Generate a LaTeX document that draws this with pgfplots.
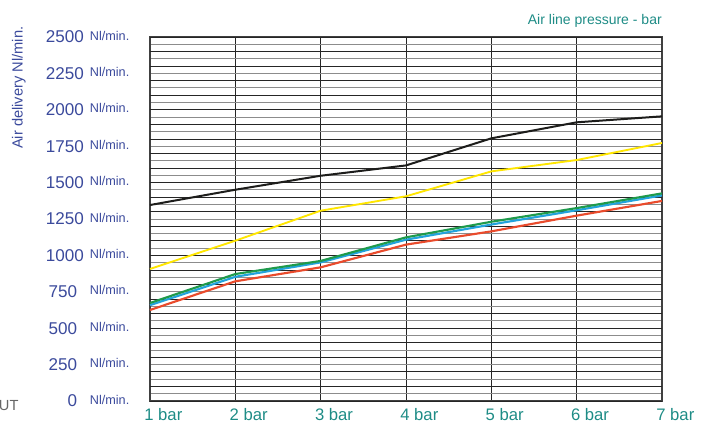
\documentclass[border=0pt]{standalone}
\usepackage{pgfplots}
\pgfplotsset{compat=1.18}
\usepackage{fontspec}
\setmainfont{Liberation Sans}
\definecolor{lblue}{HTML}{3B4A9C}
\definecolor{teal1}{HTML}{1E8C86}
\definecolor{cblack}{HTML}{1D1D1B}
\definecolor{cyellow}{HTML}{FFE600}
\definecolor{cgreen}{HTML}{1E9A4C}
\definecolor{cblue}{HTML}{22A3DC}
\definecolor{cred}{HTML}{E94B2C}
\newcommand\yl[2]{\makebox[31pt][r]{#1\hspace{#2}}\hspace{4.5pt}{\fontsize{9.5}{10}\selectfont\raisebox{2.2pt}{Nl/min.}}}
\begin{document}
\begin{tikzpicture}
\useasboundingbox (-112.5pt,-23.25pt) rectangle (414.75pt,300.75pt);
\begin{axis}[
  at={(0,0)}, anchor=south west,
  scale only axis, width=384pt, height=273pt,
  xmin=1, xmax=7, ymin=0, ymax=2500,
  xtick={1,...,7},
  xticklabels={1 bar,2 bar,3 bar,4 bar,5 bar,6 bar,7 bar},
  xticklabel style={text=teal1, font=\fontsize{12.5}{14}\selectfont, xshift=10pt, yshift=-2pt},
  ytick={0,250,...,2500},
  yticklabels={\yl{0}{5pt},\yl{250}{5pt},\yl{500}{5pt},\yl{750}{5pt},\yl{1000}{0pt},\yl{1250}{0pt},\yl{1500}{0pt},\yl{1750}{0pt},\yl{2000}{0pt},\yl{2250}{0pt},\yl{2500}{0pt}},
  yticklabel style={text=lblue, font=\fontsize{12.8}{14}\selectfont, xshift=-12pt},
  major tick length=0pt, minor tick length=0pt,
  xmajorgrids=true, ymajorgrids=false,
  major grid style={draw=black!85, line width=0.6pt},
  extra y ticks={0,100,...,2500},
  extra y tick labels={},
  extra y tick style={grid=major, major tick length=0pt},
  minor ytick={50,150,...,2450},
  yminorgrids=true,
  minor grid style={draw=black!45, line width=0.7pt},
  axis line style={draw=black!75, line width=0.8pt},
  clip=false,
]
\addplot[cblack, line width=1.5pt] coordinates {(1,1346) (2,1451) (3,1547) (4,1618) (5,1804) (6,1914) (7,1955)};
\addplot[cyellow, line width=1.4pt] coordinates {(1,907) (2,1101) (3,1307) (4,1406) (5,1577) (6,1655) (7,1772)};
\addplot[cred, line width=1.6pt] coordinates {(1,625) (2,822) (3,918) (4,1074) (5,1165) (6,1273) (7,1374)};
\addplot[cblue, line width=1.6pt] coordinates {(1,658) (2,853) (3,952) (4,1108) (5,1212) (6,1310) (7,1412)};
\addplot[cgreen, line width=1.6pt] coordinates {(1,673) (2,872) (3,962) (4,1124) (5,1231) (6,1325) (7,1426)};
\end{axis}
\node[rotate=90, anchor=south east, text=lblue, font=\fontsize{11}{12}\selectfont, inner sep=0pt] at (-93pt,281pt) {Air delivery Nl/min.};
\node[anchor=base east, text=teal1, font=\fontsize{10.5}{12}\selectfont, inner sep=0pt] at (384pt,282pt) {Air line pressure - bar};
\node[anchor=base west, text=black!60, font=\fontsize{11}{12}\selectfont, inner sep=0pt] at (-113.5pt,-7.5pt) {UT};
\end{tikzpicture}
\end{document}
